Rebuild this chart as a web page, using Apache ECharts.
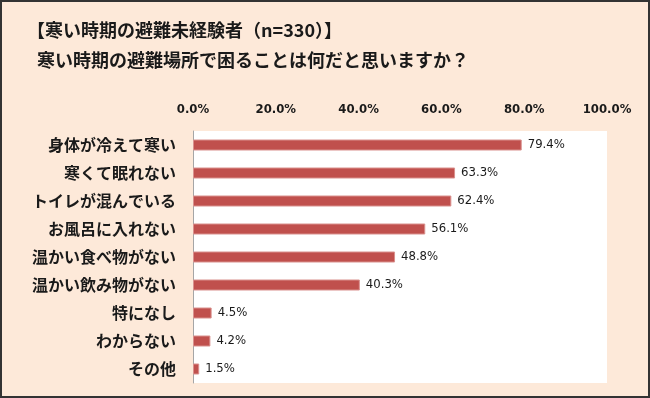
<!DOCTYPE html>
<html>
<head>
<meta charset="utf-8">
<script src="https://cdn.jsdelivr.net/npm/echarts@6/dist/echarts.min.js"></script>
<style>
html, body { margin: 0; padding: 0; background: #fde9d9; }
#main { width: 650px; height: 398px; }
</style>
</head>
<body>
<div id="main"></div>
<script>
var categories = ['身体が冷えて寒い', '寒くて眠れない', 'トイレが混んでいる', 'お風呂に入れない', '温かい食べ物がない', '温かい飲み物がない', '特になし', 'わからない', 'その他'];
var values = [79.4, 63.3, 62.4, 56.1, 48.8, 40.3, 4.5, 4.2, 1.5];
var tickLabels = ['0.0%', '20.0%', '40.0%', '60.0%', '80.0%', '100.0%'];

var jpFont = '"Noto Sans CJK JP", "Noto Sans", sans-serif';
var numFont = '"DejaVu Sans Condensed", "Liberation Sans Narrow", "Noto Sans", sans-serif';

var myChart = echarts.init(document.getElementById('main'));
myChart.setOption({
    backgroundColor: '#fde9d9',
    animation: false,
    title: [
        {
            text: '【寒い時期の避難未経験者（n=330）】',
            left: 22,
            top: 16,
            textStyle: { fontFamily: jpFont, fontSize: 18, fontWeight: 'bold', color: '#1a1a1a' }
        },
        {
            text: '寒い時期の避難場所で困ることは何だと思いますか？',
            left: 32,
            top: 46,
            textStyle: { fontFamily: jpFont, fontSize: 18, fontWeight: 'bold', color: '#1a1a1a' }
        }
    ],
    graphic: [
        {
            type: 'rect',
            shape: { x: 1, y: 1, width: 648, height: 396 },
            style: { fill: 'none', stroke: '#333', lineWidth: 2 },
            silent: true
        }
    ],
    grid: {
        left: 193,
        right: 43,
        top: 131,
        bottom: 15,
        show: true,
        backgroundColor: '#fff',
        borderWidth: 0
    },
    xAxis: {
        type: 'value',
        position: 'top',
        min: 0,
        max: 100,
        interval: 20,
        axisLine: { show: false },
        axisTick: { show: false },
        splitLine: { show: false },
        axisLabel: {
            margin: 15,
            fontFamily: numFont,
            fontSize: 13,
            fontWeight: 'bold',
            color: '#1a1a1a',
            formatter: function (v) { return tickLabels[Math.round(v / 20)]; }
        }
    },
    yAxis: {
        type: 'category',
        inverse: true,
        data: categories,
        axisLine: { lineStyle: { color: '#a6a6a6', width: 1 } },
        axisTick: { inside: true, length: 5, lineStyle: { color: '#a6a6a6' } },
        axisLabel: {
            margin: 17,
            fontFamily: jpFont,
            fontSize: 16,
            fontWeight: 'bold',
            color: '#1a1a1a'
        }
    },
    series: [
        {
            type: 'bar',
            data: values,
            barWidth: 11,
            itemStyle: {
                color: '#c0504d',
                borderColor: '#d9908d',
                borderWidth: 1
            },
            label: {
                show: true,
                position: 'right',
                distance: 6,
                fontFamily: numFont,
                fontSize: 13,
                color: '#1a1a1a',
                formatter: function (p) { return p.value.toFixed(1) + '%'; }
            }
        }
    ]
});
</script>
</body>
</html>
